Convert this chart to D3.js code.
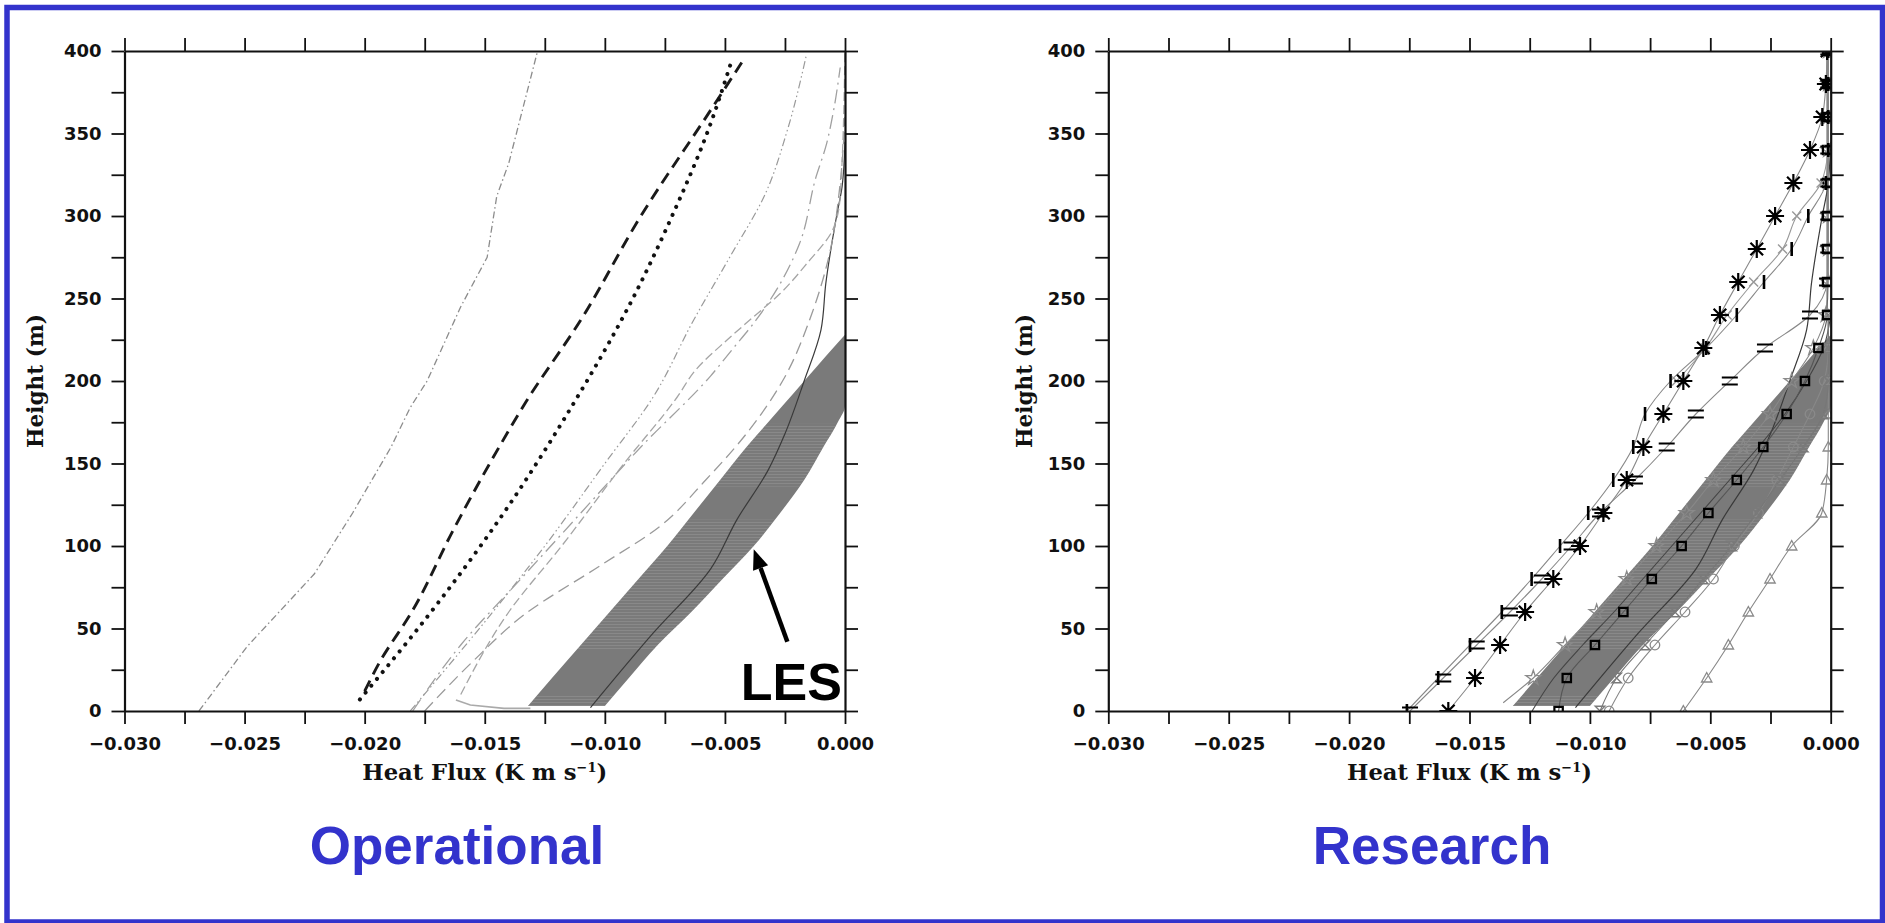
<!DOCTYPE html>
<html><head><meta charset="utf-8">
<script src="https://cdn.jsdelivr.net/npm/d3@7"></script>
<style>body{margin:0;background:#fff}svg{display:block}</style>
</head><body>
<svg id="chart" width="1885" height="923"></svg>
<script>
// ---------------- data ----------------
const xTicks = [-0.030,-0.0275,-0.025,-0.0225,-0.020,-0.0175,-0.015,-0.0125,-0.010,-0.0075,-0.005,-0.0025,0.000];
const yTicks = [0,25,50,75,100,125,150,175,200,225,250,275,300,325,350,375,400];
const xTitle = "Heat Flux (K m s";
const yTitle = "Height (m)";
const panelTitles = ["Operational", "Research"];

// LES band (shared)
const lesBandH     = [3, 20, 40, 60, 80, 100, 120, 140, 160, 175, 185, 200, 215, 228];
const lesBandLeft  = [-0.0132,-0.0122,-0.0110,-0.0098,-0.0086,-0.0074,-0.0063,-0.0052,-0.0041,-0.0032,-0.0026,-0.0017,-0.0008,0];
const lesBandRight = [-0.0100,-0.0090,-0.0078,-0.0064,-0.0051,-0.0038,-0.0027,-0.0017,-0.0009,-0.0003,0,0,0,0];
const lesMeanH = [2, 47, 86, 116, 146, 168, 200, 231, 259, 300, 318, 345];
const lesMeanF = [-0.0106,-0.0080,-0.0056,-0.0045,-0.0032,-0.0025,-0.0017,-0.0010,-0.0008,-0.00035,-0.00012,0];

// Operational panel
const op1H = [0, 39, 83, 120, 160, 184, 200, 245, 275, 312, 332, 400];
const op1F = [-0.0269,-0.0249,-0.0221,-0.0205,-0.0189,-0.0181,-0.0174,-0.0160,-0.0149,-0.0145,-0.0140,-0.0128];
const op2H = [12, 29, 61, 110, 160, 187, 237, 300, 364, 393];
const op2F = [-0.0200,-0.0194,-0.0180,-0.0163,-0.0144,-0.0133,-0.0110,-0.0085,-0.0056,-0.0043];
const op3H = [7, 57, 116, 184, 251, 300, 348, 395];
const op3F = [-0.0202,-0.0174,-0.0144,-0.0114,-0.0088,-0.0072,-0.0058,-0.0047];
const op4H = [0, 63, 100, 150, 190, 237, 275, 314, 352, 398];
const op4F = [-0.0181,-0.0145,-0.0125,-0.0100,-0.0080,-0.0063,-0.0048,-0.0033,-0.0024,-0.0016];
const op5H = [0, 30, 59, 88, 112, 140, 170, 200, 240, 280, 320, 360];
const op5F = [-0.0175,-0.0155,-0.0133,-0.0102,-0.0077,-0.0058,-0.0040,-0.0026,-0.0014,-0.0006,-0.0002,0];
const op6H = [0, 40, 80, 120, 160, 203, 219, 237, 259, 283, 324, 342, 362, 390];
const op6F = [-0.0180,-0.0160,-0.0135,-0.0110,-0.0085,-0.0056,-0.0047,-0.0037,-0.0027,-0.0019,-0.0012,-0.0008,-0.0005,-0.0002];
const op7H = [10, 60, 100, 150, 190, 207, 225, 239, 253, 271, 292, 312, 400];
const op7F = [-0.0160,-0.0140,-0.0118,-0.0092,-0.0070,-0.0062,-0.0049,-0.0038,-0.0027,-0.0016,-0.0005,-0.0002,0];
const op8H = [6.7, 3.6, 1.6, 1.6];
const op8F = [-0.0162,-0.0156,-0.0142,-0.0131];

// Research panel
const rAstH = [0,20,40,60,80,100,120,140,160,180,200,220,240,260,280,300,320,340,360,380,400];
const rAstF = [-0.01588,-0.01477,-0.01373,-0.01269,-0.01152,-0.01041,-0.00944,-0.00847,-0.00778,-0.00695,-0.00612,-0.00529,-0.00460,-0.00384,-0.00307,-0.00231,-0.00155,-0.00086,-0.00035,-0.00020,-0.00015];
const rBarH = [0,20,40,60,80,100,120,140,160,180,200,220,240,260,280,300,320,340,360,380,400];
const rBarF = [-0.01760,-0.01630,-0.01498,-0.01366,-0.01242,-0.01124,-0.01007,-0.00903,-0.00820,-0.00771,-0.00665,-0.00517,-0.00390,-0.00277,-0.00162,-0.00093,-0.00020,-0.00010,-0.00010,-0.00010,-0.00010];
const rEqH = [0,20,40,60,80,100,120,140,160,180,200,220,240,260,280,300,320,340,360,380,400];
const rEqF = [-0.01747,-0.01609,-0.01470,-0.01332,-0.01200,-0.01076,-0.00958,-0.00813,-0.00681,-0.00560,-0.00419,-0.00273,-0.00086,-0.00015,-0.00010,-0.00010,-0.00010,-0.00010,-0.00010,-0.00010,-0.00010];
const rStarH = [5,20,40,60,80,100,120,140,160,180,200,220,240,260,280,300,320,340,360,380,400];
const rStarF = [-0.01360,-0.01235,-0.01103,-0.00972,-0.00847,-0.00723,-0.00598,-0.00487,-0.00363,-0.00252,-0.00162,-0.00072,-0.00020,-0.00010,-0.00010,-0.00010,-0.00010,-0.00010,-0.00010,-0.00010,-0.00010];
const rSqH = [0,20,40,60,80,100,120,140,160,180,200,220,240,260,280,300,320,340,360,380,400];
const rSqF = [-0.01130,-0.01096,-0.00979,-0.00861,-0.00743,-0.00619,-0.00508,-0.00390,-0.00280,-0.00183,-0.00107,-0.00051,-0.00015,-0.00015,-0.00015,-0.00015,-0.00015,-0.00015,-0.00015,-0.00015,-0.00015];
const rHgH = [0,20,40,60,80,100,120,140,160,180,200,220,240];
const rHgF = [-0.00958,-0.00889,-0.00771,-0.00647,-0.00529,-0.00411,-0.00307,-0.00210,-0.00114,-0.00031,-0.00010,-0.00010,-0.00010];
const rCirH = [0,20,40,60,80,100,120,140,160,180,200,220,240];
const rCirF = [-0.00920,-0.00841,-0.00730,-0.00605,-0.00487,-0.00400,-0.00300,-0.00224,-0.00155,-0.00086,-0.00027,-0.00010,-0.00010];
const rTriH = [0,20,40,60,80,100,120,140,160,180,200,220,240];
const rTriF = [-0.00612,-0.00515,-0.00425,-0.00342,-0.00252,-0.00162,-0.00037,-0.00017,-0.00010,-0.00010,-0.00010,-0.00010,-0.00010];
const rDarkH = [0,20,40,60,80,100,120,140,160,180,200,220,240];
const rDarkF = [-0.01240,-0.01150,-0.01030,-0.00900,-0.00780,-0.00660,-0.00540,-0.00420,-0.00300,-0.00190,-0.00100,-0.00030,0];
const rGxH = [200,220,240,260,280,300,320,340];
const rGxF = [-0.00640,-0.00520,-0.00430,-0.00320,-0.00200,-0.00141,-0.00040,-0.00010];

// ---------------- drawing ----------------
const svg = d3.select("#chart");
svg.append("rect").attr("width",1885).attr("height",923).attr("fill","#fff");
svg.append("rect").attr("x",7).attr("y",7.5).attr("width",1875.5).attr("height",914.5)
  .attr("fill","none").attr("stroke","#3333cc").attr("stroke-width",5.5);

const defs = svg.append("defs");
const stripe = defs.append("pattern").attr("id","stripes").attr("patternUnits","userSpaceOnUse")
  .attr("width",8).attr("height",3);
stripe.append("rect").attr("width",8).attr("height",0.7).attr("fill","#a4a4a4");

const panels = [
  {x0:124.5, x1:845, title:panelTitles[0], tx:457, ytx:35},
  {x0:1108.3, x1:1830.7, title:panelTitles[1], tx:1432, ytx:1024}
];
const yTop = 51, yBot = 711;
const fmt = d3.format(".3f");

function seriesPts(h, f){ return h.map((v,i)=>({h:v, f:f[i]})); }

function makePanel(p, idx){
  const x = d3.scaleLinear().domain([-0.030, 0]).range([p.x0, p.x1]);
  const y = d3.scaleLinear().domain([0, 400]).range([yBot, yTop]);
  const g = svg.append("g");
  const clipId = "clip"+idx;
  defs.append("clipPath").attr("id",clipId).append("rect")
    .attr("x",p.x0).attr("y",yTop).attr("width",p.x1-p.x0).attr("height",yBot-yTop);
  const plot = g.append("g").attr("clip-path",`url(#${clipId})`);

  // LES band
  const band = lesBandH.map((h,i)=>({h, l:lesBandLeft[i], r:lesBandRight[i]}));
  const area = d3.area().y(d=>y(d.h)).x0(d=>x(d.l)).x1(d=>x(d.r)).curve(d3.curveMonotoneY);
  const bandClip = "band"+idx;
  defs.append("clipPath").attr("id",bandClip).append("path").attr("d",area(band));
  plot.append("path").attr("d",area(band)).attr("fill","#7a7a7a");
  const stripeRanges = [[3,10],[37,116],[136,174]];
  stripeRanges.forEach(r=>{
    plot.append("rect").attr("clip-path",`url(#${bandClip})`)
      .attr("x",p.x0).attr("width",p.x1-p.x0)
      .attr("y",y(r[1])).attr("height",y(r[0])-y(r[1]))
      .attr("fill","url(#stripes)").attr("opacity",0.5);
  });

  const line = d3.line().x(d=>x(d.f)).y(d=>y(d.h)).curve(d3.curveMonotoneY);
  const lineLin = d3.line().x(d=>x(d.f)).y(d=>y(d.h));
  const drawLine = (h,f,color,w,dash,cap,curve) => plot.append("path")
    .attr("d",(curve||line)(seriesPts(h,f))).attr("fill","none").attr("stroke",color)
    .attr("stroke-width",w).attr("stroke-dasharray",dash||null).attr("stroke-linecap",cap||"butt");

  drawLine(lesMeanH, lesMeanF, "#3a3a3a", 1.2);

  if(idx===0){
    drawLine(op1H, op1F, "#8c8c8c", 1.3, "7,3,1.5,3", null, lineLin);
    drawLine(op2H, op2F, "#1a1a1a", 2.9, "12,7");
    drawLine(op3H, op3F, "#111", 4, "0.1,8.8", "round");
    drawLine(op4H, op4F, "#9a9a9a", 1.2, "8,3,1.5,3,1.5,3");
    drawLine(op5H, op5F, "#9a9a9a", 1.3, "12,6");
    drawLine(op6H, op6F, "#a0a0a0", 1.3, "14,5,2,5");
    drawLine(op7H, op7F, "#a5a5a5", 1.3, "9,4");
    drawLine(op8H, op8F, "#aaaaaa", 1.6, null, null, lineLin);
  } else {
    const M = {
      ast: `M0,-9V9M-9,0H9M-6.3,-6.3L6.3,6.3M-6.3,6.3L6.3,-6.3`,
      bar: `M0,-7V7`,
      eq: `M-8,-3.5H8M-8,3.5H8`,
      sq: `M-4.2,-4.2H4.2V4.2H-4.2Z`,
      hg: `M-4.8,-4.8H4.8L-4.8,4.8H4.8Z`,
      tri: `M0,-5.5L5.2,4H-5.2Z`,
      x: `M-4.5,-4.5L4.5,4.5M-4.5,4.5L4.5,-4.5`,
      star: d3.symbol(d3.symbolStar, 70)()
    };
    const series = [
      {h:rDarkH, f:rDarkF, lc:"#444", m:null},
      {h:rTriH, f:rTriF, lc:"#888", m:"tri", mc:"#8a8a8a", mw:1.3},
      {h:rCirH, f:rCirF, lc:"#888", m:"cir", mc:"#8a8a8a", mw:1.3},
      {h:rHgH, f:rHgF, lc:"#777", m:"hg", mc:"#7a7a7a", mw:1.4},
      {h:rStarH, f:rStarF, lc:"#888", m:"star", mc:"#8a8a8a", mw:1.3},
      {h:rSqH, f:rSqF, lc:"#555", m:"sq", mc:"#000", mw:2.2},
      {h:rGxH, f:rGxF, lc:"#999", m:"x", mc:"#999", mw:1.4},
      {h:rEqH, f:rEqF, lc:"#888", m:"eq", mc:"#000", mw:2.2},
      {h:rBarH, f:rBarF, lc:"#888", m:"bar", mc:"#000", mw:2.6},
      {h:rAstH, f:rAstF, lc:"#888", m:"ast", mc:"#000", mw:2.2}
    ];
    series.forEach(sr=> drawLine(sr.h, sr.f, sr.lc, 1.1));
    series.forEach(sr=>{
      if(!sr.m) return;
      const pts = seriesPts(sr.h, sr.f).filter(d=>d.h%20===0);
      const gm = plot.append("g");
      pts.forEach(d=>{
        const tx = `translate(${x(d.f)},${y(d.h)})`;
        if(sr.m==="cir"){
          gm.append("circle").attr("transform",tx).attr("r",4.8).attr("fill","none")
            .attr("stroke",sr.mc).attr("stroke-width",sr.mw);
        } else {
          gm.append("path").attr("transform",tx).attr("d",M[sr.m]).attr("fill","none")
            .attr("stroke",sr.mc).attr("stroke-width",sr.mw);
        }
      });
    });
  }

  // axes
  const tl = 13;
  const axB = d3.axisBottom(x).tickValues(xTicks).tickSize(tl).tickSizeOuter(0).tickPadding(13)
    .tickFormat((d,i)=> i%2===0 ? fmt(d) : "");
  const axT = d3.axisTop(x).tickValues(xTicks).tickSize(tl).tickSizeOuter(0).tickFormat("");
  const axL = d3.axisLeft(y).tickValues(yTicks).tickSize(tl).tickSizeOuter(0).tickPadding(10)
    .tickFormat((d,i)=> i%2===0 ? d : "");
  const axR = d3.axisRight(y).tickValues(yTicks).tickSize(tl).tickSizeOuter(0).tickFormat("");
  const gB = g.append("g").attr("transform",`translate(0,${yBot})`).call(axB);
  const gT = g.append("g").attr("transform",`translate(0,${yTop})`).call(axT);
  const gL = g.append("g").attr("transform",`translate(${p.x0},0)`).call(axL);
  const gR = g.append("g").attr("transform",`translate(${p.x1},0)`).call(axR);
  [gB,gT,gL,gR].forEach(a=>{
    a.select(".domain").attr("stroke","#111").attr("stroke-width",2.2);
    a.selectAll(".tick line").attr("stroke","#111").attr("stroke-width",1.8);
    a.selectAll("text").attr("font-family","'DejaVu Sans'").attr("font-weight","bold")
      .attr("font-size",18).attr("fill","#111");
  });

  // axis titles
  const xt = g.append("text").attr("x",(p.x0+p.x1)/2).attr("y",780).attr("text-anchor","middle")
    .attr("font-family","'DejaVu Serif'").attr("font-weight","bold").attr("font-size",19).attr("fill","#111");
  xt.append("tspan").text(xTitle);
  xt.append("tspan").attr("dy",-8).attr("font-size",13).text("−1");
  xt.append("tspan").attr("dy",8).text(")");
  const w = xt.node().getComputedTextLength();
  xt.attr("font-size",19*249/w);

  const yt = g.append("text").attr("transform",`translate(${p.ytx},${(yTop+yBot)/2}) rotate(-90)`)
    .attr("dy","0.35em").attr("text-anchor","middle")
    .attr("font-family","'DejaVu Serif'").attr("font-weight","bold").attr("font-size",18).attr("fill","#111")
    .text(yTitle);
  const wy = yt.node().getComputedTextLength();
  yt.attr("font-size",18*134/wy);

  // panel title
  svg.append("text").attr("x",p.tx).attr("y",864).attr("text-anchor","middle")
    .attr("font-family","'Liberation Sans', Arial, sans-serif").attr("font-weight","bold")
    .attr("font-size",53).attr("fill","#3333cc").text(p.title);

  return {x,y,g};
}

const P0 = makePanel(panels[0],0);
makePanel(panels[1],1);

// LES annotation (left panel)
const ann = svg.append("g");
const arrowFrom = [-0.0024, 42], arrowTo = [-0.0038, 98];
const ax1 = P0.x(arrowFrom[0]), ay1 = P0.y(arrowFrom[1]);
const ax2 = P0.x(arrowTo[0]), ay2 = P0.y(arrowTo[1]);
const ang = Math.atan2(ay2-ay1, ax2-ax1);
const hl = 20, hw = 8;
const bx = ax2 - hl*Math.cos(ang), by = ay2 - hl*Math.sin(ang);
ann.append("line").attr("x1",ax1).attr("y1",ay1).attr("x2",bx).attr("y2",by)
  .attr("stroke","#000").attr("stroke-width",4.5);
ann.append("path").attr("d",`M${ax2},${ay2}L${bx+hw*Math.sin(ang)},${by-hw*Math.cos(ang)}L${bx-hw*Math.sin(ang)},${by+hw*Math.cos(ang)}Z`)
  .attr("fill","#000");
ann.append("text").attr("x",P0.x(0)-3).attr("y",700).attr("text-anchor","end")
  .attr("font-family","'Liberation Sans', Arial, sans-serif").attr("font-weight","bold")
  .attr("font-size",52).attr("fill","#000").text("LES");
</script>
</body></html>
